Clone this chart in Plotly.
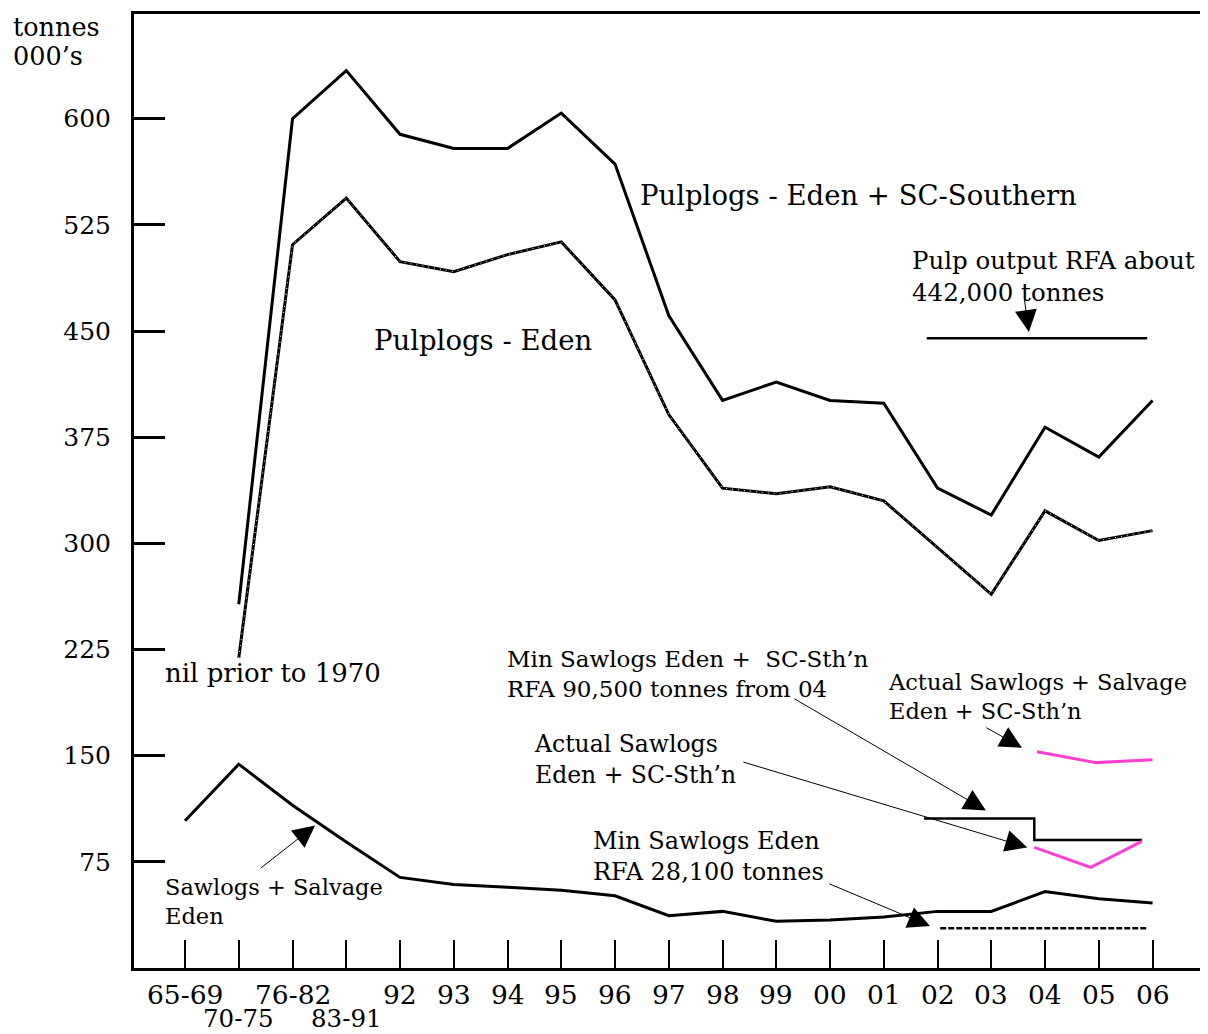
import plotly.graph_objects as go

# ---------------- data ----------------
categories = ["65-69", "70-75", "76-82", "83-91", "92", "93", "94", "95", "96", "97",
              "98", "99", "00", "01", "02", "03", "04", "05", "06"]
lower_row_labels = ["70-75", "83-91"]
pos = list(range(len(categories)))

pulp_total = [None, 257, 600, 634, 589, 579, 579, 604, 568, 461,
              401, 414, 401, 399, 339, 320, 382, 361, 401]
pulp_eden = [None, 219, 511, 544, 499, 492, 504, 513, 472, 391,
             339, 335, 340, 330, 297, 264, 323, 302, 309]
sawlogs_eden = [104, 144, 115, 89, 64, 59, 57, 55, 51, 37,
                40, 33, 34, 36, 40, 40, 54, 49, 46]

rfa_pulp_x = [13.8, 17.9]
rfa_pulp_y = [445, 445]

min_saw_total_x = [13.75, 15.8, 17.8]
min_saw_total_y = [105.6, 90.5, 90.5]

actual_saw_x = [15.8, 16.85, 17.8]
actual_saw_y = [85.2, 71.1, 89.4]

actual_saw_salv_x = [15.85, 16.95, 18.0]
actual_saw_salv_y = [152.8, 145.1, 147.2]

min_saw_eden_x = [14.05, 17.9]
min_saw_eden_y = [28.1, 28.1]

y_ticks = [75, 150, 225, 300, 375, 450, 525, 600]

FONT = "DejaVu Serif"
MAGENTA = "#ff3fd2"

fig = go.Figure()

def line(x, y, color="black", width=3, dash="solid", shape="linear"):
    fig.add_trace(go.Scatter(x=x, y=y, mode="lines", hoverinfo="skip",
                             line=dict(color=color, width=width, dash=dash, shape=shape),
                             showlegend=False))

line(pos, pulp_total)
line(pos, pulp_eden, width=3)
line(pos, pulp_eden, color="white", width=1, dash="1px,5px")
line(pos, sawlogs_eden)
line(rfa_pulp_x, rfa_pulp_y, width=2.5)
line(min_saw_total_x, min_saw_total_y, width=2.5, shape="hv")
line(actual_saw_x, actual_saw_y, color=MAGENTA, width=3)
line(actual_saw_salv_x, actual_saw_salv_y, color=MAGENTA, width=3)
line(min_saw_eden_x, min_saw_eden_y, width=2.5, dash="6px,2px")

annotations = []

def label(x, y, text, size):
    annotations.append(dict(x=x, y=y, xref="x", yref="y", text=text, showarrow=False,
                            xanchor="left", yanchor="middle", align="left",
                            font=dict(family=FONT, size=size, color="black")))

label(8.43, 545.8, "Pulplogs - Eden + SC-Southern", 27.5)
label(3.48, 443.7, "Pulplogs - Eden", 27.5)
label(13.49, 488.7, "Pulp output RFA about<br>442,000 tonnes", 24.5)
label(-0.41, 208.5, "nil prior to 1970", 26)
label(5.95, 207.7, "Min Sawlogs Eden +  SC-Sth’n<br>RFA 90,500 tonnes from 04", 23)
label(6.46, 147.5, "Actual Sawlogs<br>Eden + SC-Sth’n", 23.5)
label(7.55, 78.5, "Min Sawlogs Eden<br>RFA 28,100 tonnes", 24)
label(13.04, 191.5, "Actual Sawlogs + Salvage<br>Eden + SC-Sth’n", 22.5)
label(-0.41, 47.2, "Sawlogs + Salvage<br>Eden", 22.5)

def arrow(x, y, ax, ay):
    annotations.append(dict(x=x, y=y, ax=ax, ay=ay, xref="x", yref="y", axref="x", ayref="y",
                            text="", showarrow=True, arrowhead=2, arrowsize=4.4,
                            arrowwidth=1, arrowcolor="black", standoff=0, startstandoff=0))

arrow(15.70, 449.3, 15.61, 474.0)
arrow(14.90, 111.3, 11.31, 190.8)
arrow(15.67, 85.2, 10.36, 145.8)
arrow(15.57, 155.6, 14.88, 170.4)
arrow(13.86, 29.6, 11.96, 59.9)
arrow(2.42, 100.7, 1.38, 69.7)

# x tick labels (two rows)
for p, lab in zip(pos, categories):
    lower = lab in lower_row_labels
    annotations.append(dict(x=p, y=0, xref="x", yref="paper", text=lab, showarrow=False,
                            xanchor="center", yanchor="middle",
                            yshift=-50 if lower else -26,
                            font=dict(family=FONT, size=24.5 if lower else 26.5, color="black")))

# y-axis unit label (two lines)
for txt, py in (("tonnes", 0.9864), ("000’s", 0.9561)):
    annotations.append(dict(x=-0.1155, y=py, xref="paper", yref="paper",
                            text=txt, showarrow=False, xanchor="left",
                            yanchor="middle", align="left",
                            font=dict(family=FONT, size=25.5, color="black")))

fig.update_layout(
    width=1200, height=1026,
    margin=dict(l=126, r=6, t=3, b=66),
    paper_bgcolor="white", plot_bgcolor="white",
    showlegend=False,
    annotations=annotations,
    xaxis=dict(range=[-0.949, 18.92], tickmode="array", tickvals=pos,
               showticklabels=False, ticks="inside", ticklen=28, tickwidth=2,
               tickcolor="black", showline=True, linewidth=3, linecolor="black",
               mirror=True, showgrid=False, zeroline=False, fixedrange=True),
    yaxis=dict(range=[0, 674], tickmode="array", tickvals=y_ticks,
               ticktext=[str(v) for v in y_ticks],
               ticks="inside", ticklen=31, tickwidth=2.5, tickcolor="black",
               ticklabelstandoff=15,
               tickfont=dict(family=FONT, size=25, color="black"),
               showline=True, linewidth=3, linecolor="black", mirror=True,
               showgrid=False, zeroline=False, fixedrange=True),
)

fig.write_html("out.html")
